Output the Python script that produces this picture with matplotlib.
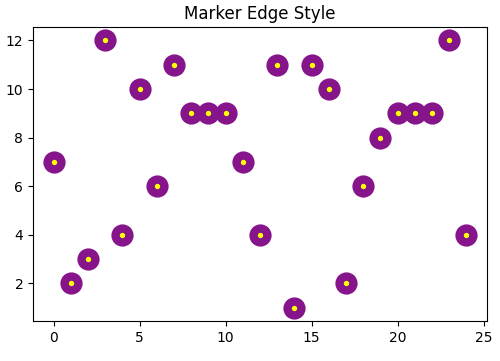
import matplotlib
matplotlib.use("Agg")
import matplotlib.pyplot as plt

x = list(range(25))
y = [7, 2, 3, 12, 4, 10, 6, 11, 9, 9, 9, 7, 4, 11, 1, 11, 10, 2, 6, 8, 9, 9, 9, 12, 4]

fig = plt.figure(figsize=(5, 3.61), dpi=100)
ax = fig.add_axes([0.066, 0.111, 0.908, 0.814])
ax.plot(x, y, 'o', linestyle='none', markersize=10, markeredgewidth=6,
        markeredgecolor='#86148a', markerfacecolor='yellow')
ax.set_title("Marker Edge Style", fontsize=12)
ax.tick_params(labelsize=10)
fig.savefig("out.png", dpi=100)
